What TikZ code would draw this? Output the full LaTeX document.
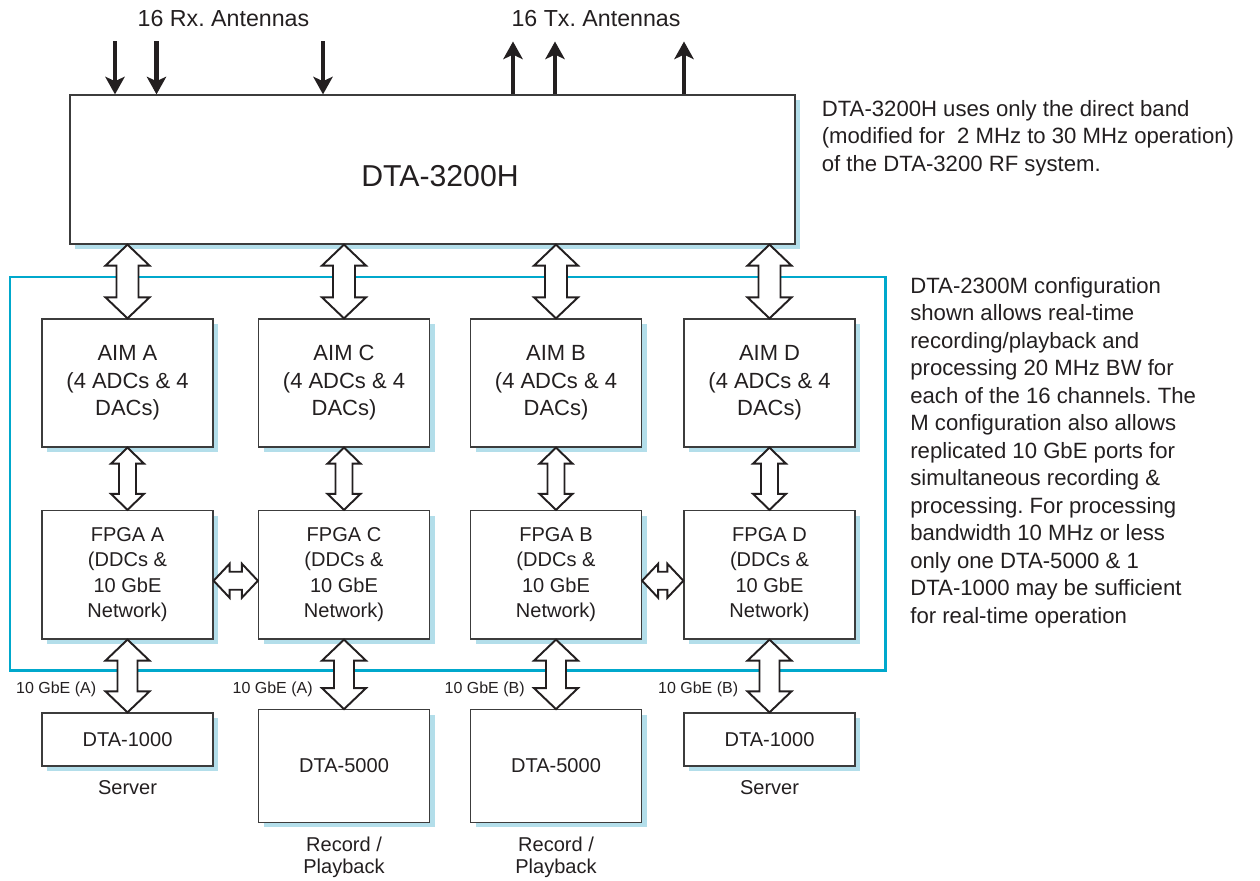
\documentclass[tikz,border=0pt]{standalone}
\usepackage{fontspec}
\setmainfont{Liberation Sans}
\usetikzlibrary{arrows.meta,calc,shadows}
\frenchspacing

\definecolor{framecyan}{HTML}{00A8CC}
\definecolor{shadowblue}{HTML}{B3DEEA}
\definecolor{edgegray}{HTML}{3C3C3C}
\definecolor{inkblack}{HTML}{231F20}

\tikzset{
  box/.style={draw=edgegray, line width=0.7pt, fill=white, inner sep=0pt, align=center,
    text=inkblack,
    drop shadow={shadow xshift=0.1cm, shadow yshift=-0.1cm, fill=shadowblue, opacity=1}},
  aimbox/.style={box, minimum width=3.42cm, minimum height=2.56cm,
    font=\fontsize{12.5}{15.65}\selectfont},
  fpgabox/.style={box, minimum width=3.42cm, minimum height=2.57cm,
    font=\fontsize{11.4}{14.5}\selectfont},
  srvbox/.style={box, minimum width=3.42cm, minimum height=1.06cm,
    font=\fontsize{11.4}{14.5}\selectfont},
  recbox/.style={box, minimum width=3.42cm, minimum height=2.25cm,
    font=\fontsize{11.4}{14.5}\selectfont},
  fat/.style={draw=inkblack, fill=white, line width=1.1pt, line join=miter},
  antenna/.style={-{Stealth[length=10pt,width=11pt,inset=2.5pt]}, line width=2.3pt, inkblack},
  sub/.style={text=inkblack, align=center, font=\fontsize{11.4}{12.2}\selectfont},
  gbe/.style={text=inkblack, anchor=east, inner sep=0pt, font=\fontsize{9.1}{11}\selectfont},
  note/.style={text=inkblack, anchor=north west, inner sep=0pt, align=left,
    font=\fontsize{12.6}{15.65}\selectfont}
}

% vertical fat double arrow: top point, bottom point, half shaft, half head, head length
\newcommand{\vfat}[5]{%
  \draw[fat] let \p1=(#1), \p2=(#2) in
    (\x1,\y1) -- (\x1+#4,\y1-#5) -- (\x1+#3,\y1-#5) -- (\x1+#3,\y2+#5) -- (\x1+#4,\y2+#5)
    -- (\x1,\y2) -- (\x1-#4,\y2+#5) -- (\x1-#3,\y2+#5) -- (\x1-#3,\y1-#5) -- (\x1-#4,\y1-#5) -- cycle;}
% horizontal fat double arrow: left point, right point, half shaft, half head, head length
\newcommand{\hfat}[5]{%
  \draw[fat] let \p1=(#1), \p2=(#2) in
    (\x1,\y1) -- (\x1+#5,\y1+#4) -- (\x1+#5,\y1+#3) -- (\x2-#5,\y1+#3) -- (\x2-#5,\y1+#4)
    -- (\x2,\y1) -- (\x2-#5,\y1-#4) -- (\x2-#5,\y1-#3) -- (\x1+#5,\y1-#3) -- (\x1+#5,\y1-#4) -- cycle;}

\begin{document}
\begin{tikzpicture}
\useasboundingbox (0,0) rectangle (25.2,17.6);

% System frame
\draw[framecyan, line width=1.4pt] (0.2,4.19) rectangle (17.71,12.06);

% RF system
\node[box, minimum width=14.5cm, minimum height=2.98cm] (dta) at (8.65,14.21) {};
\node[text=inkblack, font=\fontsize{17.2}{20}\selectfont] (dtaname) at (8.8,14.08) {DTA-3200H};

% Antennas
\node[text=inkblack, font=\fontsize{13.2}{16}\selectfont] (rxlbl) at (4.47,17.22) {16 Rx. Antennas};
\node[text=inkblack, font=\fontsize{13.2}{16}\selectfont] (txlbl) at (11.92,17.22) {16 Tx. Antennas};
\foreach \i/\x in {1/2.3, 2/3.13, 3/6.46} {
  \coordinate (rx\i) at (\x,16.77);
  \draw[antenna] (rx\i) -- (rx\i |- dta.north);
}
\foreach \i/\x in {1/10.26, 2/11.1, 3/13.68} {
  \coordinate (tx\i) at (\x,16.77);
  \draw[antenna] (tx\i |- dta.north) -- (tx\i);
}

% AIM and FPGA columns
\foreach \c/\x in {A/2.55, C/6.88, B/11.12, D/15.39} {
  \node[aimbox] (aim\c) at (\x,9.94) {AIM \c\\(4 ADCs \& 4\\DACs)};
  \node[fpgabox] (fpga\c) at (\x,6.105) {FPGA \c\\(DDCs \&\\10 GbE\\Network)};
}

% Servers and recorders
\node[srvbox] (srvA) at (2.55,2.81) {DTA-1000};
\node[recbox] (recC) at (6.88,2.28) {DTA-5000};
\node[recbox] (recB) at (11.12,2.28) {DTA-5000};
\node[srvbox] (srvD) at (15.39,2.81) {DTA-1000};
\node[sub] (srvAl) at (2.55,1.84) {Server};
\node[sub] (recCl) at (6.88,0.45) {Record /\\Playback};
\node[sub] (recBl) at (11.12,0.45) {Record /\\Playback};
\node[sub] (srvDl) at (15.39,1.84) {Server};

% Fat arrows
\foreach \c in {A,C,B,D} {
  \vfat{aim\c.north |- dta.south}{aim\c.north}{0.22cm}{0.44cm}{0.42cm}
  \vfat{aim\c.south}{fpga\c.north}{0.17cm}{0.33cm}{0.32cm}
}
\vfat{fpgaA.south}{srvA.north}{0.2cm}{0.44cm}{0.42cm}
\vfat{fpgaC.south}{recC.north}{0.2cm}{0.44cm}{0.42cm}
\vfat{fpgaB.south}{recB.north}{0.2cm}{0.44cm}{0.42cm}
\vfat{fpgaD.south}{srvD.north}{0.2cm}{0.44cm}{0.42cm}
\hfat{$(fpgaA.east)+(0,-0.12)$}{fpgaC.west}{0.18cm}{0.34cm}{0.32cm}
\hfat{$(fpgaB.east)+(0,-0.12)$}{fpgaD.west}{0.18cm}{0.34cm}{0.32cm}

% Link labels
\node[gbe] (gbeA) at ($(srvA.north)+(-0.62,0.46)$) {10 GbE (A)};
\node[gbe] (gbeC) at ($(recC.north)+(-0.62,0.4)$) {10 GbE (A)};
\node[gbe] (gbeB) at ($(recB.north)+(-0.62,0.4)$) {10 GbE (B)};
\node[gbe] (gbeD) at ($(srvD.north)+(-0.62,0.46)$) {10 GbE (B)};

% Notes
\node[note] (note1) at (16.43,15.6) {DTA-3200H uses only the direct band\\
(modified for \ 2 MHz to 30 MHz operation)\\of the DTA-3200 RF system.};
\node[note] (note2) at (18.2,12.06) {DTA-2300M configuration\\shown allows real-time\\
recording/playback and\\processing 20 MHz BW for\\each of the 16 channels. The\\
M configuration also allows\\replicated 10 GbE ports for\\simultaneous recording \&\\
processing. For processing\\bandwidth 10 MHz or less\\only one DTA-5000 \& 1\\
DTA-1000 may be sufficient\\for real-time operation};
\end{tikzpicture}
\end{document}
